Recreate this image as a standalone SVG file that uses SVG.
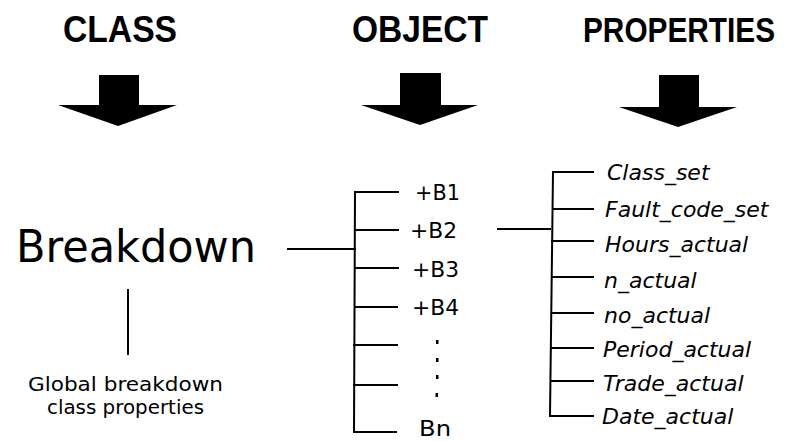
<svg xmlns="http://www.w3.org/2000/svg" width="785" height="441" viewBox="0 0 785 441">
  <style>
    .head { font-family: "Liberation Sans", Arial, sans-serif; font-weight: bold; font-size: 36px; fill: #000; }
    .main { font-family: "DejaVu Sans", sans-serif; font-size: 44px; fill: #000; }
    .note { font-family: "DejaVu Sans", sans-serif; font-size: 19px; fill: #000; }
    .obj { font-family: "DejaVu Sans", sans-serif; font-size: 22px; fill: #000; }
    .prop { font-family: "DejaVu Sans", sans-serif; font-style: italic; font-size: 22px; fill: #000; }
    .arrow { fill: #000; }
    .link { stroke: #000; stroke-width: 2; fill: none; stroke-linecap: square; }
    .dot { fill: #000; }
  </style>
  <rect width="785" height="441" fill="#fff"/>

  <!-- column headings with their block arrows -->
  <g id="heading-class">
    <text class="head" x="63" y="42" textLength="114" lengthAdjust="spacingAndGlyphs">CLASS</text>
    <polygon class="arrow" points="99,75 139,75 139,105 177,105 118,126 58,105 99,105"/>
  </g>
  <g id="heading-object">
    <text class="head" x="352" y="42" textLength="136" lengthAdjust="spacingAndGlyphs">OBJECT</text>
    <polygon class="arrow" points="400,73 441,73 441,105 478,105 420,125 361,105 400,105"/>
  </g>
  <g id="heading-properties">
    <text class="head" transform="translate(583,42) scale(0.828,1)" x="0" y="0">PROPERTIES</text>
    <polygon class="arrow" points="659,75 699,75 699,107 737,107 678,127 619,107 659,107"/>
  </g>

  <!-- class node -->
  <g id="class-breakdown">
    <text class="main" x="16" y="262" textLength="240" lengthAdjust="spacingAndGlyphs">Breakdown</text>
  </g>
  <g id="class-note">
    <text class="note" x="28" y="391" textLength="195" lengthAdjust="spacingAndGlyphs">Global breakdown</text>
    <text class="note" x="47" y="414" textLength="157" lengthAdjust="spacingAndGlyphs">class properties</text>
  </g>

  <!-- object instances -->
  <g id="objects">
    <text class="obj" x="415" y="200" textLength="45" lengthAdjust="spacingAndGlyphs">+B1</text>
    <text class="obj" x="410" y="238" textLength="47" lengthAdjust="spacingAndGlyphs">+B2</text>
    <text class="obj" x="412" y="277" textLength="47" lengthAdjust="spacingAndGlyphs">+B3</text>
    <text class="obj" x="412" y="315" textLength="47" lengthAdjust="spacingAndGlyphs">+B4</text>
    <rect class="dot" x="436" y="340" width="2.5" height="4"/>
    <rect class="dot" x="436" y="358" width="2.5" height="4"/>
    <rect class="dot" x="436" y="375" width="2.5" height="4"/>
    <rect class="dot" x="435.5" y="393" width="2.5" height="4"/>
    <text class="obj" x="419" y="436" textLength="32" lengthAdjust="spacingAndGlyphs">Bn</text>
  </g>

  <!-- properties of an object -->
  <g id="properties">
    <text class="prop" x="607" y="180">Class_set</text>
    <text class="prop" x="605" y="217">Fault_code_set</text>
    <text class="prop" x="605" y="252">Hours_actual</text>
    <text class="prop" x="604" y="288">n_actual</text>
    <text class="prop" x="604" y="323">no_actual</text>
    <text class="prop" x="603" y="357">Period_actual</text>
    <text class="prop" x="603" y="391">Trade_actual</text>
    <text class="prop" x="602" y="424">Date_actual</text>
  </g>

  <!-- connectors -->
  <g id="connectors">
    <line class="link" x1="128" y1="290" x2="128" y2="354"/>
    <line class="link" x1="288" y1="249" x2="355" y2="249"/>
    <line class="link" x1="355" y1="192" x2="354" y2="432"/>
    <line class="link" x1="355" y1="192" x2="398" y2="192"/>
    <line class="link" x1="355" y1="230" x2="398" y2="230"/>
    <line class="link" x1="355" y1="268" x2="398" y2="268"/>
    <line class="link" x1="355" y1="307" x2="397" y2="307"/>
    <line class="link" x1="354" y1="345" x2="397" y2="345"/>
    <line class="link" x1="354" y1="385" x2="397" y2="385"/>
    <line class="link" x1="354" y1="432" x2="396" y2="432"/>
    <line class="link" x1="498" y1="229" x2="550" y2="229"/>
    <line class="link" x1="553" y1="172" x2="550" y2="416"/>
    <line class="link" x1="553" y1="172" x2="593" y2="172"/>
    <line class="link" x1="553" y1="209" x2="593" y2="209"/>
    <line class="link" x1="552" y1="241" x2="593" y2="241"/>
    <line class="link" x1="552" y1="277" x2="593" y2="277"/>
    <line class="link" x1="552" y1="313" x2="593" y2="313"/>
    <line class="link" x1="551" y1="348" x2="593" y2="348"/>
    <line class="link" x1="551" y1="381" x2="593" y2="381"/>
    <line class="link" x1="550" y1="416" x2="593" y2="416"/>
  </g>
</svg>
